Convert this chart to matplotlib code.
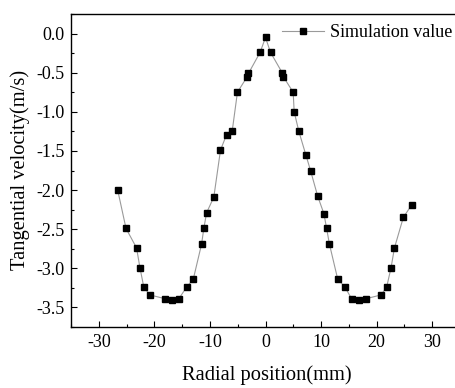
import matplotlib
matplotlib.use("Agg")
import matplotlib.pyplot as plt
from matplotlib.ticker import MultipleLocator

plt.rcParams['font.family'] = ['Liberation Serif', 'DejaVu Serif']
plt.rcParams['axes.unicode_minus'] = False

radial_mm = [-26.6, -25.1, -23.2, -22.6, -21.9, -20.8, -18.0, -16.9, -15.6, -14.2,
             -13.0, -11.5, -11.1, -10.6, -9.3, -8.1, -7.0, -6.0, -5.05, -3.37,
             -3.07, -0.97, 0.0, 0.9, 3.0, 3.2, 4.98, 5.16, 6.0, 7.26,
             8.1, 9.4, 10.5, 11.0, 11.5, 13.0, 14.3, 15.5, 16.8, 18.0,
             20.8, 21.8, 22.6, 23.2, 24.8, 26.3]
velocity = [-2.0, -2.49, -2.74, -2.99, -3.24, -3.34, -3.39, -3.40, -3.39, -3.24,
            -3.14, -2.69, -2.49, -2.29, -2.09, -1.49, -1.29, -1.25, -0.75, -0.56,
            -0.51, -0.24, -0.05, -0.24, -0.50, -0.55, -0.75, -1.0, -1.25, -1.55,
            -1.75, -2.08, -2.30, -2.49, -2.69, -3.14, -3.24, -3.39, -3.40, -3.39,
            -3.34, -3.24, -2.99, -2.74, -2.35, -2.19]

W, H = 456, 388
fig = plt.figure(figsize=(W/100, H/100), dpi=100)
ax = fig.add_axes([71/W, (H-327)/H, (460-71)/W, (327-14)/H])

line, = ax.plot(radial_mm, velocity, color='#9a9a9a', lw=0.8, marker='s',
                markersize=5, markerfacecolor='black', markeredgecolor='black',
                label='Simulation value')

ax.set_xlim(-35, 35)
ax.set_ylim(-3.75, 0.25)
ax.xaxis.set_major_locator(MultipleLocator(10))
ax.xaxis.set_minor_locator(MultipleLocator(5))
ax.yaxis.set_major_locator(MultipleLocator(0.5))
ax.yaxis.set_minor_locator(MultipleLocator(0.25))
ax.tick_params(which='both', direction='in', top=False, right=False, labelsize=13)
ax.tick_params(which='major', length=4, width=0.8)
ax.tick_params(which='minor', length=2.5, width=0.8)
ax.tick_params(axis='x', pad=5)
ax.tick_params(axis='y', pad=4.5)
ax.yaxis.set_major_formatter(matplotlib.ticker.FormatStrFormatter('%.1f'))
ax.spines['right'].set_visible(False)
for s in ['left', 'bottom', 'top']:
    ax.spines[s].set_linewidth(1.0)

fig.text(20/W, 1 - 170/H, 'Tangential velocity(m/s)', rotation=90, ha='center',
         va='center', fontsize=14.8)
fig.text(267/W, 1 - 375/H, 'Radial position(mm)', ha='center', va='center', fontsize=14.8)

leg = fig.legend(handles=[line], loc='center left', bbox_to_anchor=(282/W, 1 - 32.5/H),
                 frameon=False, fontsize=13, handlelength=2.3, handletextpad=0.35,
                 borderpad=0, borderaxespad=0)

fig.savefig('out.png', dpi=100)
